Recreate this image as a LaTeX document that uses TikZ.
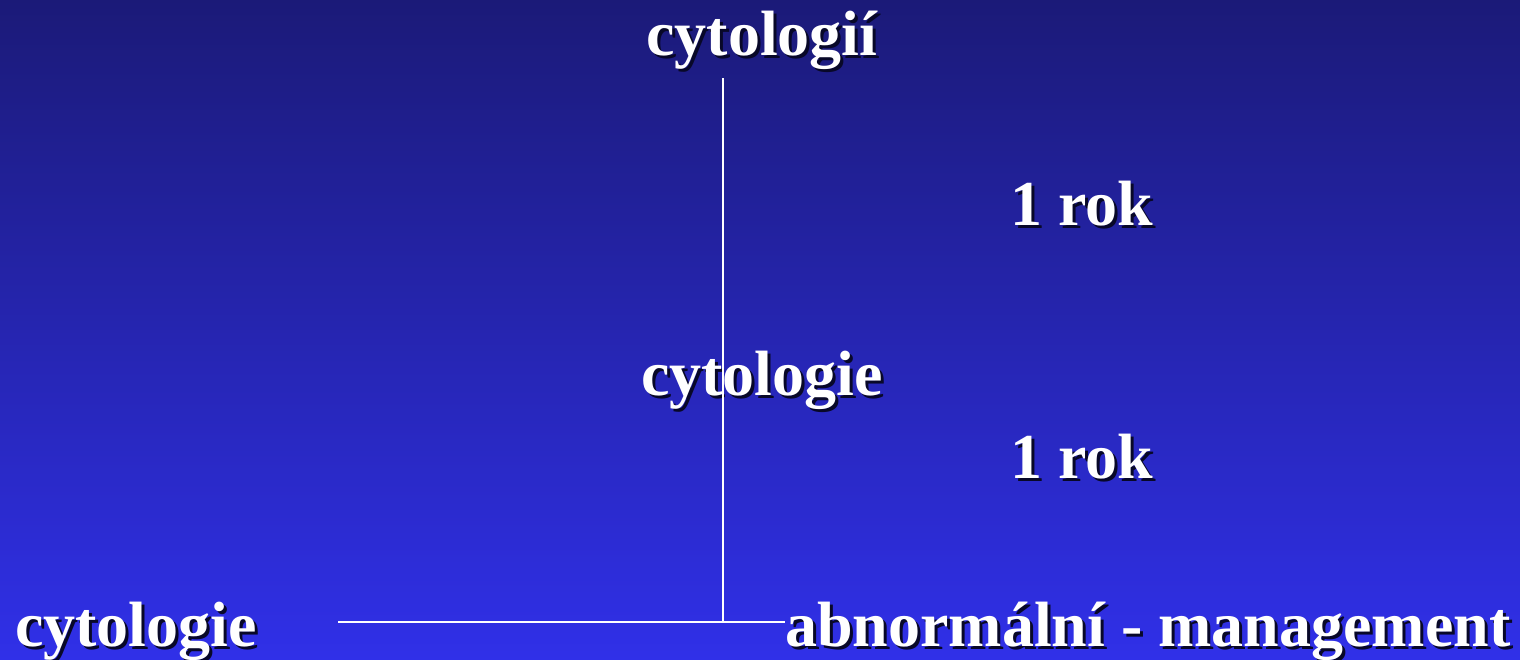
\documentclass[tikz,border=0pt]{standalone}
\usepackage{fontspec}
\setmainfont{Liberation Serif}
\usetikzlibrary{positioning}
\definecolor{slidetop}{RGB}{27,26,120}
\definecolor{slidebottom}{RGB}{48,48,232}
\definecolor{txtshadow}{RGB}{8,8,40}
% text with a drop shadow
\newcommand{\shtext}[1]{\rlap{\kern3pt\raisebox{-3pt}{\color{txtshadow}#1}}#1}

\begin{document}
\begin{tikzpicture}[
        x=1pt, y=-1pt,
        % Styles
        label/.style={text=white, font=\fontsize{64}{70}\selectfont\bfseries, inner sep=0pt, anchor=base},
        link/.style={draw=white, line width=2pt}
    ]

        % Background
        \shade[top color=slidetop, bottom color=slidebottom] (0,0) rectangle (1520,659);
        \useasboundingbox (0,0) rectangle (1520,659);

        % Nodes
        \node[label] (cytall) at (762,55) {\shtext{cytologií}};
        \node[label] (year1) at (1082,225) {\shtext{1 rok}};
        \node[label] (cytmid) at (762,395) {\shtext{cytologie}};
        \node[label] (year2) at (1082,478) {\shtext{1 rok}};
        \node[label] (cytleft) at (136,646) {\shtext{cytologie}};
        \node[label, anchor=base west] (abn) at (785,646) {\shtext{abnormální - management}};

        \coordinate (vtop) at (723,78);
        \coordinate (junc) at (723,622);
        \coordinate (hleft) at (338,622);

        % Lines
        \draw[link] (vtop) -- (junc);
        \draw[link] (hleft) -- (junc) -- (abn.west |- junc);

    \end{tikzpicture}
\end{document}
